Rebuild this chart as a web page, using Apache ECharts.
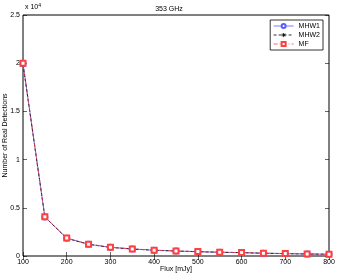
<!DOCTYPE html>
<html><head><meta charset="utf-8">
<script src="https://cdn.jsdelivr.net/npm/echarts@6/dist/echarts.min.js"></script>
<style>html,body{margin:0;padding:0;background:#fff}#c{width:338px;height:276px}</style>
</head><body><div id="c"></div>
<script>
var flux = [100,150,200,250,300,350,400,450,500,550,600,650,700,750,800];
var mhw1 = [19950,4050,1850,1220,900,730,600,520,450,390,350,290,250,210,180];
var mhw2 = [19900,4040,1840,1210,895,725,595,515,445,385,345,285,245,205,178];
var mf   = [20000,4060,1860,1230,905,735,605,525,455,395,355,295,255,215,182];
var xTicks = [100,200,300,400,500,600,700,800];
var yTicks = [0,0.5,1,1.5,2,2.5];
var F = 'Liberation Sans, Arial, sans-serif';
var asterisk = 'path://M5 0L5 10M0 5L10 5M1.5 1.5L8.5 8.5M8.5 1.5L1.5 8.5';
function pts(arr){return flux.map(function(x,i){return [x,arr[i]];});}
var chart = echarts.init(document.getElementById('c'));
var axX = {type:'value',min:100,max:800,interval:100,
  axisLine:{show:false},axisTick:{inside:true,length:4,lineStyle:{color:'#000',width:0.6}},
  splitLine:{show:false}};
var axY = {type:'value',min:0,max:25000,interval:5000,
  axisLine:{show:false},axisTick:{inside:true,length:4,lineStyle:{color:'#000',width:0.6}},
  splitLine:{show:false}};
chart.setOption({
  animation:false,
  title:{text:'353 GHz',left:'center',top:1,textStyle:{fontFamily:F,fontSize:7,fontWeight:'normal',color:'#000'}},
  grid:{left:23,right:9,top:15,bottom:20,show:true,borderColor:'#000',borderWidth:1,backgroundColor:'#fff',
    outerBoundsMode:'none',containLabel:false},
  legend:{right:15,top:20,orient:'vertical',itemWidth:20,itemHeight:5,itemGap:1,
    backgroundColor:'#fff',borderColor:'#000',borderWidth:0.8,padding:[2,3,2,3],
    lineStyle:{width:0.8},itemStyle:{borderWidth:0.8},
    textStyle:{fontFamily:F,fontSize:7,color:'#000',lineHeight:8},
    data:['MHW1','MHW2','MF']},
  xAxis:[Object.assign({},axX,{position:'bottom',name:'Flux [mJy]',nameLocation:'middle',nameGap:10,nameMoveOverlap:false,
      nameTextStyle:{fontFamily:F,fontSize:7,color:'#000'},
      axisLabel:{fontFamily:F,fontSize:7,color:'#000',margin:3,
        formatter:function(v){return xTicks.indexOf(v)>=0?String(v):'';}}}),
    Object.assign({},axX,{position:'top',axisLabel:{show:false}})],
  yAxis:[Object.assign({},axY,{position:'left',name:'Number of Real Detections',nameLocation:'middle',nameGap:14,nameMoveOverlap:false,
      nameTextStyle:{fontFamily:F,fontSize:7,color:'#000'},
      axisLabel:{fontFamily:F,fontSize:7,color:'#000',margin:3,
        formatter:function(v){return String(v/10000);}}}),
    Object.assign({},axY,{position:'right',axisLabel:{show:false}})],
  graphic:[{type:'text',left:25,top:3,style:{text:'x 10{s|4}',fontFamily:F,fontSize:7,fill:'#000',
     rich:{s:{fontSize:5,verticalAlign:'top',padding:[0,0,4,0]}}}}],
  series:[
    {name:'MHW1',type:'line',data:pts(mhw1),symbol:'emptyCircle',symbolSize:5,
     lineStyle:{color:'#5b5bff',width:0.8,type:'solid'},itemStyle:{color:'#5b5bff',borderWidth:0.8}},
    {name:'MHW2',type:'line',data:pts(mhw2),symbol:asterisk,symbolSize:5,
     lineStyle:{color:'#000',width:0.8,type:[3,2]},itemStyle:{color:'#000',borderColor:'#000',borderWidth:0.8}},
    {name:'MF',type:'line',data:pts(mf),symbol:'emptyRect',symbolSize:5,
     lineStyle:{color:'#ff4040',width:0.8,type:[4,2,1,2]},itemStyle:{color:'#ff4040',borderWidth:0.8}}
  ]
});
</script></body></html>
